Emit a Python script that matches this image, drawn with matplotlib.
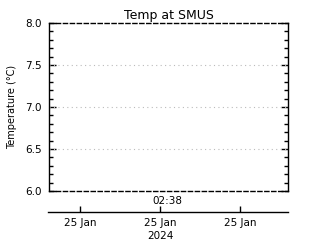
import matplotlib
matplotlib.use('Agg')
import matplotlib.pyplot as plt
import numpy as np

title = 'Temp at SMUS'
ylabel = 'Temperature (\u00b0C)'
ylim = (6.0, 8.0)
yticks = [6.0, 6.5, 7.0, 7.5, 8.0]
time_label = '02:38'
xticks = [0, 1, 2]
xticklabels = ['25 Jan', '25 Jan', '25 Jan']
year_label = '2024'

fig = plt.figure(figsize=(3.2, 2.4), dpi=100)
W, H = 320, 240

# main plot box
ax = fig.add_axes([49 / W, 1 - 191 / H, 239 / W, 168 / H])
ax.set_ylim(*ylim)
ax.set_xlim(0, 1)
ax.set_yticks(yticks)
ax.set_yticklabels(['%.1f' % v for v in yticks], fontsize=7.5)
ax.set_yticks(np.arange(6.0, 8.01, 0.1), minor=True)
ax.tick_params(axis='y', which='major', direction='in', length=5, width=1,
               left=True, right=True, pad=5)
ax.tick_params(axis='y', which='minor', direction='in', length=3, width=1,
               left=True, right=True)
ax.tick_params(axis='x', bottom=False, labelbottom=False)
for v in yticks[1:-1]:
    ax.axhline(v, color='#bbbbbb', linestyle=(0, (1, 3)), linewidth=0.8)
for s in ['top', 'bottom']:
    ax.spines[s].set_linestyle((0, (3, 2)))
for s in ax.spines.values():
    s.set_linewidth(1)
ax.set_title(title, fontsize=9, pad=3)
ax.set_ylabel(ylabel, fontsize=7, labelpad=6)

fig.text(167 / W, 1 - 201 / H, time_label, fontsize=7.5, ha='center', va='center')

# separate time axis below
ax2 = fig.add_axes([48 / W, 1 - 212 / H, 240 / W, 0.001])
ax2.set_xlim(-0.4, 2.6)
ax2.set_xticks(xticks)
ax2.set_xticklabels(xticklabels, fontsize=7.5)
ax2.set_yticks([])
for s in ['top', 'left', 'right']:
    ax2.spines[s].set_visible(False)
ax2.spines['bottom'].set_linewidth(1)
ax2.tick_params(axis='x', direction='in', length=4, width=1, pad=4)
fig.text(160 / W, 1 - 236 / H, year_label, fontsize=7.5, ha='center', va='center')

fig.savefig('out.png', dpi=100)
